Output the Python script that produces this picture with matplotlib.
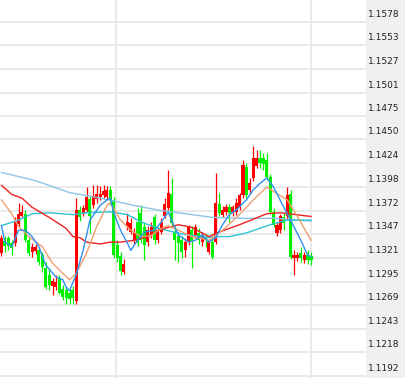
import matplotlib
matplotlib.use("Agg")
import matplotlib.pyplot as plt
import numpy as np

# ---------------- data ----------------
opens = [1.1326, 1.1339, 1.1342, 1.1337, 1.1337, 1.1358, 1.1367, 1.1369, 1.1340, 1.1327,
         1.1328, 1.1329, 1.1324, 1.1310, 1.1302, 1.1290, 1.1289, 1.1299, 1.1287, 1.1286,
         1.1283, 1.1286, 1.1274, 1.1373, 1.1370, 1.1373, 1.1385, 1.1378, 1.1385, 1.1387,
         1.1389, 1.1387, 1.1395, 1.1384, 1.1335, 1.1323, 1.1305, 1.1354, 1.1349, 1.1340,
         1.1360, 1.1370, 1.1354, 1.1338, 1.1346, 1.1365, 1.1340, 1.1349, 1.1366, 1.1375,
         1.1391, 1.1349, 1.1345, 1.1340, 1.1329, 1.1338, 1.1351, 1.1346, 1.1348, 1.1338,
         1.1344, 1.1327, 1.1338, 1.1338, 1.1380, 1.1368, 1.1371, 1.1376, 1.1371, 1.1371,
         1.1376, 1.1389, 1.1420, 1.1395, 1.1408, 1.1421, 1.1430, 1.1430, 1.1428, 1.1409,
         1.1371, 1.1348, 1.1351, 1.1365, 1.1366, 1.1391, 1.1321, 1.1321, 1.1326, 1.1319,
         1.1324, 1.1323]
closes = [1.1343, 1.1334, 1.1334, 1.1332, 1.1360, 1.1369, 1.1371, 1.1340, 1.1326, 1.1333,
          1.1333, 1.1316, 1.1311, 1.1289, 1.1291, 1.1296, 1.1294, 1.1283, 1.1278, 1.1277,
          1.1276, 1.1277, 1.1373, 1.1365, 1.1375, 1.1387, 1.1366, 1.1388, 1.1390, 1.1391,
          1.1394, 1.1395, 1.1384, 1.1324, 1.1321, 1.1306, 1.1314, 1.1360, 1.1359, 1.1348,
          1.1337, 1.1340, 1.1335, 1.1351, 1.1355, 1.1340, 1.1351, 1.1360, 1.1380, 1.1392,
          1.1359, 1.1340, 1.1337, 1.1327, 1.1338, 1.1354, 1.1338, 1.1354, 1.1340, 1.1346,
          1.1340, 1.1338, 1.1322, 1.1381, 1.1370, 1.1373, 1.1376, 1.1370, 1.1376, 1.1381,
          1.1389, 1.1422, 1.1389, 1.1403, 1.1430, 1.1430, 1.1424, 1.1423, 1.1409, 1.1371,
          1.1357, 1.1357, 1.1366, 1.1359, 1.1389, 1.1322, 1.1324, 1.1324, 1.1321, 1.1324,
          1.1319, 1.1319]
highs = [1.1346, 1.1345, 1.1345, 1.1340, 1.1365, 1.1381, 1.1378, 1.1373, 1.1344, 1.1337,
         1.1336, 1.1333, 1.1327, 1.1316, 1.1310, 1.1299, 1.1302, 1.1302, 1.1291, 1.1289,
         1.1288, 1.1290, 1.1386, 1.1377, 1.1378, 1.1398, 1.1389, 1.1400, 1.1400, 1.1399,
         1.1400, 1.1399, 1.1399, 1.1387, 1.1340, 1.1327, 1.1320, 1.1370, 1.1364, 1.1353,
         1.1375, 1.1378, 1.1360, 1.1356, 1.1360, 1.1369, 1.1355, 1.1364, 1.1386, 1.1417,
         1.1408, 1.1356, 1.1349, 1.1345, 1.1343, 1.1357, 1.1356, 1.1358, 1.1353, 1.1349,
         1.1347, 1.1340, 1.1343, 1.1413, 1.1392, 1.1377, 1.1380, 1.1380, 1.1379, 1.1386,
         1.1392, 1.1428, 1.1424, 1.1408, 1.1443, 1.1438, 1.1438, 1.1435, 1.1435, 1.1412,
         1.1375, 1.1360, 1.1369, 1.1371, 1.1398, 1.1395, 1.1329, 1.1327, 1.1333, 1.1327,
         1.1329, 1.1327]
lows = [1.1323, 1.1327, 1.1329, 1.1324, 1.1334, 1.1356, 1.1365, 1.1338, 1.1323, 1.1322,
        1.1325, 1.1313, 1.1305, 1.1287, 1.1286, 1.1280, 1.1286, 1.1281, 1.1275, 1.1270,
        1.1271, 1.1270, 1.1271, 1.1361, 1.1367, 1.1371, 1.1348, 1.1375, 1.1381, 1.1384,
        1.1386, 1.1385, 1.1379, 1.1321, 1.1316, 1.1302, 1.1303, 1.1351, 1.1347, 1.1336,
        1.1334, 1.1337, 1.1319, 1.1334, 1.1343, 1.1336, 1.1337, 1.1347, 1.1364, 1.1373,
        1.1356, 1.1319, 1.1316, 1.1321, 1.1322, 1.1335, 1.1310, 1.1343, 1.1336, 1.1334,
        1.1333, 1.1325, 1.1320, 1.1336, 1.1367, 1.1365, 1.1368, 1.1360, 1.1367, 1.1368,
        1.1373, 1.1386, 1.1386, 1.1391, 1.1405, 1.1419, 1.1419, 1.1417, 1.1406, 1.1369,
        1.1354, 1.1345, 1.1348, 1.1351, 1.1362, 1.1320, 1.1302, 1.1317, 1.1316, 1.1315,
        1.1314, 1.1313]

# moving-average lines, read at selected candle indices
ma_blue_idx = [0, 1, 3, 5, 7, 9, 11, 13, 16, 18, 19, 20, 22, 24, 26, 29, 31, 32, 33, 35,
               37, 38, 40, 42, 45, 47, 49, 50, 52, 55, 57, 59, 61, 63, 65, 67, 69, 72, 74,
               76, 78, 80, 83, 85, 88, 90, 91]
ma_blue = [1.1356, 1.1338, 1.1333, 1.1351, 1.1351, 1.1344, 1.1333, 1.1313, 1.1300, 1.1297,
           1.1289, 1.1285, 1.1303, 1.1329, 1.1362, 1.1378, 1.1384, 1.1386, 1.1370, 1.1351,
           1.1337, 1.1329, 1.1340, 1.1349, 1.1351, 1.1360, 1.1371, 1.1362, 1.1346, 1.1338,
           1.1340, 1.1346, 1.1338, 1.1343, 1.1357, 1.1368, 1.1373, 1.1384, 1.1395, 1.1402,
           1.1408, 1.1398, 1.1376, 1.1362, 1.1340, 1.1324, 1.1322]

ma_orange_idx = [0, 3, 5, 8, 12, 15, 18, 20, 22, 25, 28, 31, 32, 35, 38, 41, 44, 47, 49,
                 52, 56, 61, 65, 70, 74, 78, 81, 84, 87, 91]
ma_orange = [1.1384, 1.1369, 1.1355, 1.1344, 1.1333, 1.1315, 1.1304, 1.1297, 1.1304, 1.1326,
             1.1355, 1.1378, 1.1381, 1.1362, 1.1351, 1.1344, 1.1345, 1.1353, 1.1356, 1.1351,
             1.1344, 1.1340, 1.1351, 1.1368, 1.1384, 1.1398, 1.1391, 1.1384, 1.1366, 1.1340]

ma_red_idx = [0, 3, 6, 9, 14, 19, 21, 23, 25, 29, 32, 35, 39, 43, 46, 52, 56, 61, 64, 70,
              78, 82, 91]
ma_red = [1.1400, 1.1390, 1.1386, 1.1376, 1.1365, 1.1353, 1.1344, 1.1343, 1.1338, 1.1336,
          1.1338, 1.1338, 1.1340, 1.1344, 1.1351, 1.1357, 1.1354, 1.1344, 1.1349, 1.1357,
          1.1369, 1.1370, 1.1366]

ma_cyan_idx = [0, 5, 9, 14, 21, 25, 32, 37, 41, 46, 53, 60, 64, 67, 72, 79, 84, 91]
ma_cyan = [1.1356, 1.1362, 1.1369, 1.1370, 1.1368, 1.1370, 1.1371, 1.1368, 1.1360, 1.1353,
           1.1347, 1.1343, 1.1344, 1.1344, 1.1348, 1.1357, 1.1362, 1.1362]

ma_lblue_idx = [0, 10, 20, 29, 39, 46, 50, 62, 70, 80, 91]
ma_lblue = [1.1414, 1.1405, 1.1392, 1.1386, 1.1378, 1.1373, 1.1371, 1.1365, 1.1364, 1.1364,
            1.1361]

price_labels = ["1.1578", "1.1553", "1.1527", "1.1501", "1.1475", "1.1450", "1.1424",
                "1.1398", "1.1372", "1.1347", "1.1321", "1.1295", "1.1269", "1.1243",
                "1.1218", "1.1192"]
vgrid_pos = [33.7, 91.0]

# ---------------- figure ----------------
W, H = 405, 378
fig = plt.figure(figsize=(W / 100, H / 100), dpi=100)
fig.patch.set_facecolor("white")

panel_left = 366 / W
ax = fig.add_axes([0, 0, panel_left, 1])
ax.set_facecolor("white")
for s in ax.spines.values():
    s.set_visible(False)

y_top = 1.160199
y_bot = 1.118986
ax.set_ylim(y_bot, y_top)
ax.set_xlim(-0.441, 107.17)
ax.set_xticks([])
ax.set_yticks([])

levels = [float(v) for v in price_labels]
for lv in levels:
    ax.axhline(lv, color="#e8e8e8", lw=1.3, zorder=0)
for vx in vgrid_pos:
    ax.axvline(vx, color="#e8e8e8", lw=1.3, zorder=0)

up_col = "#ff0000"
dn_col = "#00f000"
n = len(opens)
x = np.arange(n)
o = np.array(opens); c = np.array(closes); h = np.array(highs); l = np.array(lows)
cols = [up_col if c[i] >= o[i] else dn_col for i in range(n)]
ax.vlines(x, l, h, colors=cols, lw=0.9, zorder=2)
bottoms = np.minimum(o, c)
heights = np.maximum(np.abs(c - o), 0.00009)
ax.bar(x, heights, bottom=bottoms, width=0.9, color=cols, linewidth=0, zorder=3)

ax.plot(ma_lblue_idx, ma_lblue, color="#8ec3e6", lw=1.0, zorder=4)
ax.plot(ma_cyan_idx, ma_cyan, color="#2cc4d4", lw=1.0, zorder=4)
ax.plot(ma_red_idx, ma_red, color="#f02020", lw=1.0, zorder=4)
ax.plot(ma_orange_idx, ma_orange, color="#f0a070", lw=1.0, zorder=4)
ax.plot(ma_blue_idx, ma_blue, color="#3090f0", lw=1.0, zorder=5)

# right price panel
pax = fig.add_axes([panel_left, 0, 1 - panel_left, 1])
pax.set_facecolor("#f0f0f0")
for s in pax.spines.values():
    s.set_visible(False)
pax.set_xticks([]); pax.set_yticks([])
pax.set_xlim(0, 1)
pax.set_ylim(y_bot, y_top)
px_per_price = 1 / 0.00010903
for lab, lv in zip(price_labels, levels):
    pax.text(0.06, lv + 7.5 / px_per_price, lab, fontsize=6.5, color="#222222",
             va="center", ha="left", family="DejaVu Sans")

fig.savefig("out.png", dpi=100)
